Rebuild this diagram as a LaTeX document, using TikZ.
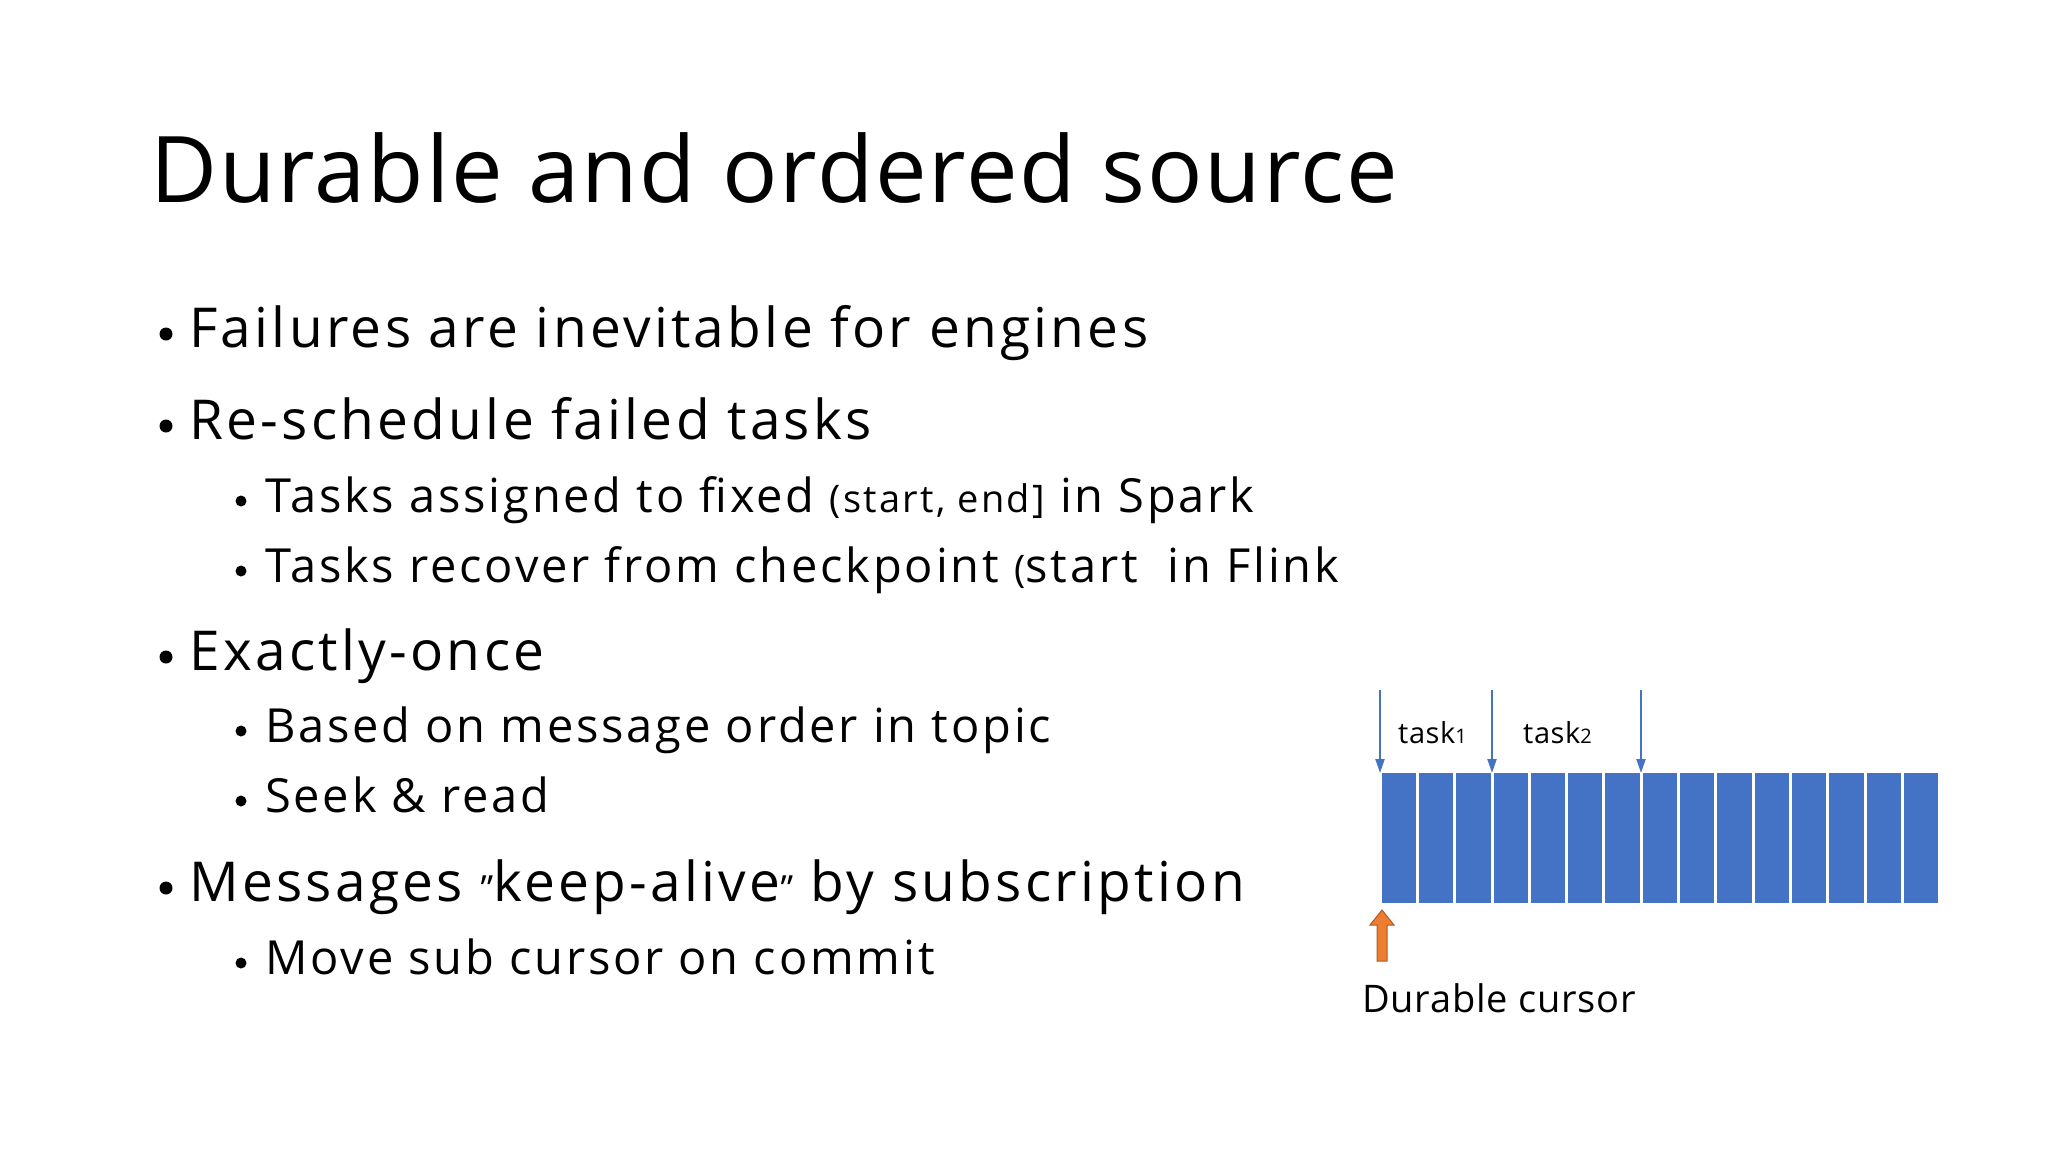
\documentclass[tikz,border=0pt]{standalone}
\usepackage{fontspec}
\setmainfont{Open Sans}[LetterSpace=6]
\newfontfamily\titlefont{Open Sans}[LetterSpace=2]
\newfontfamily\plainfont{Open Sans}[LetterSpace=2]
\usetikzlibrary{arrows.meta}
\definecolor{cblue}{HTML}{4472C4}
\definecolor{corange}{HTML}{ED7D31}
\definecolor{corangeD}{HTML}{AE5A21}
\tikzset{
  txt/.style={anchor=base west, inner sep=0pt},
  big/.style={txt, font=\fontsize{55}{60}\selectfont},
  small/.style={txt, font=\fontsize{47}{52}\selectfont},
  dot/.style={circle, fill=black, inner sep=0pt, minimum size=#1},
  cell/.style={fill=cblue, draw=none},
  tarrow/.style={cblue, line width=2pt, -{Triangle[length=14pt,width=9pt]}}
}
\begin{document}
\begin{tikzpicture}[x=1pt,y=-1pt]
\useasboundingbox (0,0) rectangle (2048,1152);
\node[txt, font=\titlefont\fontsize{92}{100}\selectfont] (title) at (150,202) {Durable and ordered source};
% level 1
\foreach \n/\y/\t in {a/347/Failures are inevitable for engines, b/439/Re-schedule failed tasks, c/670/Exactly-once, d/901/Messages {\fontsize{36}{40}\selectfont”}keep-alive{\fontsize{36}{40}\selectfont”} by subscription}{
  \node[dot=13pt] (b\n) at (166,\y-13) {};
  \node[big] (t\n) at (189,\y) {\t};
}
% level 2
\foreach \n/\y/\t in {e/512/Tasks assigned to fixed {\fontsize{38}{40}\selectfont(start, end]} in Spark, f/582/Tasks recover from checkpoint {\fontsize{38}{40}\selectfont(}start\ \ in Flink, g/742/Based on message order in topic, h/812/Seek \& read, i/974/Move sub cursor on commit}{
  \node[dot=11pt] (b\n) at (241,\y-11) {};
  \node[small] (t\n) at (265,\y) {\t};
}
% cells
\foreach \i in {0,...,14}{
  \fill[cell] (1380+\i*37.33+1.5,773) rectangle (1380+\i*37.33+37.33-1.5,903);
}
\coordinate (c0) at (1380,773);
\coordinate (c3) at (1492,773);
\coordinate (c7) at (1641,773);
\coordinate (s0) at (1380,690);
\coordinate (s3) at (1492,690);
\coordinate (s7) at (1641,690);
\draw[tarrow] (s0) -- (c0);
\draw[tarrow] (s3) -- (c3);
\draw[tarrow] (s7) -- (c7);
\node[txt, font=\plainfont\fontsize{29}{32}\selectfont] (k1) at (1398,743) {task{\fontsize{20}{20}\selectfont 1}};
\node[txt, font=\plainfont\fontsize{29}{32}\selectfont] (k2) at (1523,743) {task{\fontsize{20}{20}\selectfont 2}};
\draw[draw=corangeD, fill=corange, line width=1pt]
  (1377,961) -- (1377,925) -- (1370,925) -- (1382,910) -- (1394,925) -- (1387,925) -- (1387,961) -- cycle;
\node[txt, font=\plainfont\fontsize{38}{42}\selectfont] (dc) at (1362,1012) {Durable cursor};
\end{tikzpicture}
\end{document}
